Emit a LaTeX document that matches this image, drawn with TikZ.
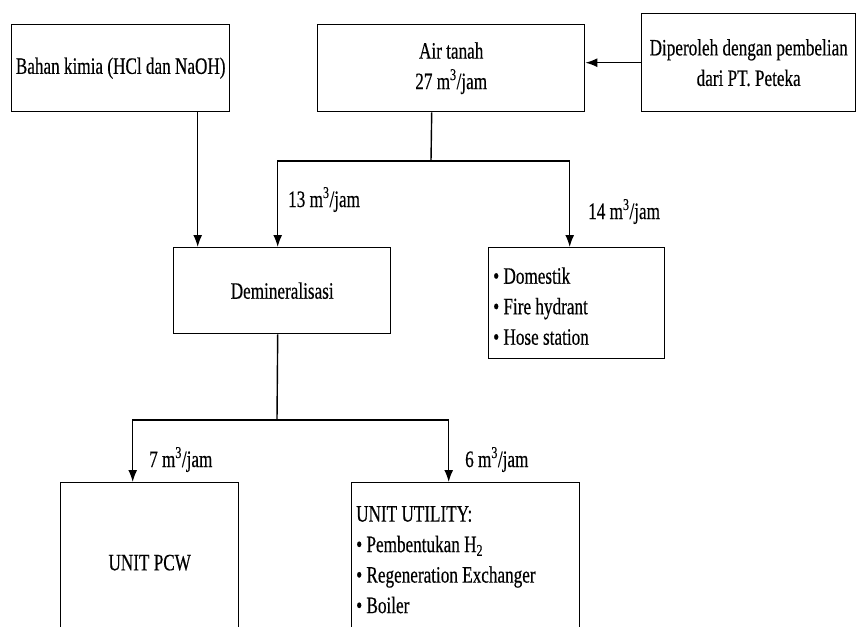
\documentclass[tikz,border=0pt]{standalone}
\usepackage{fontspec}
\setmainfont{Liberation Serif}[FakeStretch=0.73,FakeBold=0.4]
\usetikzlibrary{arrows.meta}
\begin{document}
\begin{tikzpicture}[x=1pt,y=-1pt,
  every node/.style={font=\fontsize{23.5}{30.5}\selectfont},
  box/.style={draw, line width=1.4pt, inner sep=0pt, anchor=north west, align=center},
  flow/.style={line width=1.4pt, -{Latex[length=12pt,width=9pt]}},
  pipe/.style={line width=1.4pt},
  rate/.style={anchor=base west, inner sep=0pt},
  list/.style={align=flush left, anchor=north west, inner sep=0pt}]
\clip (0,0) rectangle (856,626);

% sources
\node[box, minimum width=218pt, minimum height=87pt] (bahan) at (11,24) {Bahan kimia (HCl dan NaOH)};
\node[box, minimum width=267pt, minimum height=87pt] (air) at (317,24) {Air tanah\\27 m\textsuperscript{3}/jam};
\node[box, minimum width=214pt, minimum height=98pt] (beli) at (641,13) {Diperoleh dengan pembelian\\dari PT. Peteka};

% treatment and consumers
\node[box, minimum width=176pt, minimum height=111pt] (dom) at (488,247) {};
\node[list, anchor=west] (domtext) at ([xshift=5pt,yshift=-3pt]dom.west) {• Domestik\\• Fire hydrant\\• Hose station};
\node[box, minimum width=217pt, minimum height=86pt] (demin) at (173,247) {Demineralisasi};
\node[box, minimum width=178pt, minimum height=160pt] (pcw) at (60,482) {UNIT PCW};
\node[box, minimum width=228pt, minimum height=160pt] (util) at (351,482) {};
\node[list] (utiltext) at (356,506) {UNIT UTILITY:\\• Pembentukan H\textsubscript{2}\\• Regeneration Exchanger\\• Boiler};

% supply into the ground-water box
\draw[flow] (beli.west) -- (beli.west -| air.east);

% chemicals to demineralisation
\draw[flow] ([xshift=77pt]bahan.south) -- ([xshift=77pt]bahan.south |- demin.north);

% ground water split
\coordinate (j1) at (431,161);
\draw[pipe] ([xshift=-19.5pt]air.south) -- (j1);
\draw[flow] (j1) -| ([xshift=-4.5pt]demin.north);
\draw[flow] (j1) -| ([xshift=-7pt]dom.north);

% demineralised water split
\coordinate (j2) at (277,420);
\draw[pipe] ([xshift=-4.5pt]demin.south) -- (j2);
\draw[flow] (j2) -| ([xshift=-17pt]pcw.north);
\draw[flow] (j2) -| ([xshift=-17pt]util.north);

% flow rates
\node[rate] (r13) at (288,207) {13 m\textsuperscript{3}/jam};
\node[rate] (r14) at (588,219) {14 m\textsuperscript{3}/jam};
\node[rate] (r7) at (149,467) {7 m\textsuperscript{3}/jam};
\node[rate] (r6) at (465,467) {6 m\textsuperscript{3}/jam};
\end{tikzpicture}
\end{document}
